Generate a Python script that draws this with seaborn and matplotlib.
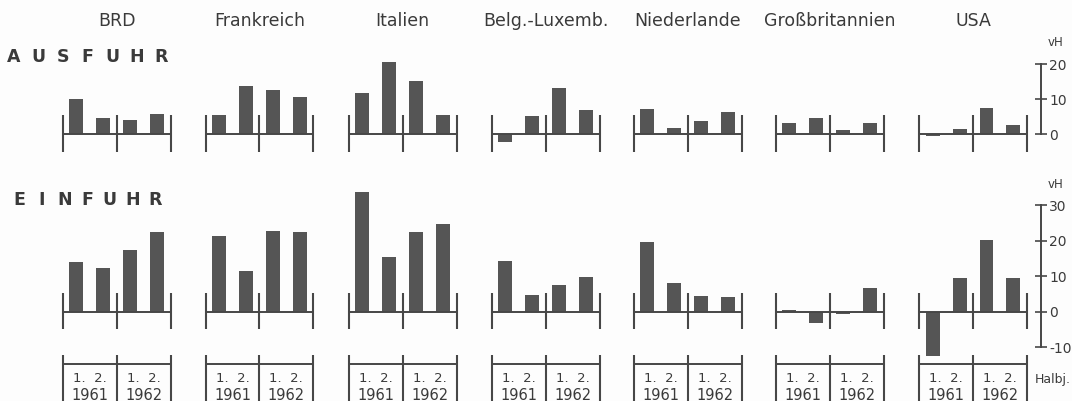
import matplotlib
matplotlib.use("Agg")
import matplotlib.pyplot as plt
import seaborn as sns
import pandas as pd

# ---------------- data ----------------
countries = ["BRD", "Frankreich", "Italien", "Belg.-Luxemb.",
             "Niederlande", "Großbritannien", "USA"]
halfyears = ["1/1961", "2/1961", "1/1962", "2/1962"]
half_label = "1.  2."
years = ["1961", "1962"]

ausfuhr_brd = [10.0, 4.7, 4.1, 5.9]
ausfuhr_fra = [5.5, 13.9, 12.8, 10.6]
ausfuhr_ita = [11.7, 20.7, 15.2, 5.5]
ausfuhr_bel = [-2.1, 5.3, 13.1, 6.9]
ausfuhr_ned = [7.1, 1.8, 3.8, 6.5]
ausfuhr_gbr = [3.1, 4.6, 1.2, 3.3]
ausfuhr_usa = [-0.4, 1.4, 7.4, 2.7]

einfuhr_brd = [14.1, 12.4, 17.5, 22.5]
einfuhr_fra = [21.4, 11.4, 22.8, 22.5]
einfuhr_ita = [33.7, 15.3, 22.5, 24.6]
einfuhr_bel = [14.4, 4.7, 7.4, 9.9]
einfuhr_ned = [19.5, 8.2, 4.5, 4.2]
einfuhr_gbr = [0.5, -3.1, -0.6, 6.6]
einfuhr_usa = [-12.6, 9.4, 20.2, 9.4]

ausfuhr = [ausfuhr_brd, ausfuhr_fra, ausfuhr_ita, ausfuhr_bel,
           ausfuhr_ned, ausfuhr_gbr, ausfuhr_usa]
einfuhr = [einfuhr_brd, einfuhr_fra, einfuhr_ita, einfuhr_bel,
           einfuhr_ned, einfuhr_gbr, einfuhr_usa]

aus_ticks = [0, 10, 20]
aus_ticklabels = ["0", "10", "20"]
ein_ticks = [-10, 0, 10, 20, 30]
ein_ticklabels = ["-10", "0", "10", "20", "30"]

# ---------------- style / layout ----------------
sns.set_theme(style="white")
plt.rcParams['font.family'] = ['DejaVu Sans']

BAR = "#555555"
LINE = "#474747"
TXT = "#3a3a3a"
BG = "#fdfdfd"

W, H = 1072, 401
fig = plt.figure(figsize=(W / 100, H / 100), dpi=100, facecolor=BG)


def add_ax(left, top, width, height):
    ax = fig.add_axes([left / W, 1 - (top + height) / H, width / W, height / H])
    ax.set_facecolor("none")
    return ax


panel_left = [63, 205.7, 349, 492, 634, 776, 919.3]
panel_w = 107.5

A_TOP, A_BOT, A_BASE, A_SC = 30, 165, 134.3, 3.5
E_TOP, E_BOT, E_BASE, E_SC = 180, 401, 311.7, 3.55


def lims(top, bot, base, sc):
    return ((base - bot) / sc, (base - top) / sc)


def e_px(y):
    return (E_BASE - y) / E_SC


def frame(ax, up, down):
    ax.plot([-0.5, 3.5], [0, 0], color=LINE, lw=1.4, clip_on=False,
            solid_capstyle="butt", zorder=3)
    ax.vlines([-0.5, 1.5, 3.5], down, up, color=LINE, lw=1.5,
              clip_on=False, zorder=3)


for i, name in enumerate(countries):
    left = panel_left[i]
    # Ausfuhr
    ax = add_ax(left, A_TOP, panel_w, A_BOT - A_TOP)
    df = pd.DataFrame({"h": halfyears, "v": ausfuhr[i]})
    sns.barplot(data=df, x="h", y="v", color=BAR, saturation=1, width=0.52,
                ax=ax, edgecolor="none")
    ax.set_xlim(-0.5, 3.5)
    ax.set_ylim(*lims(A_TOP, A_BOT, A_BASE, A_SC))
    frame(ax, 5.5, -5.0)
    ax.axis("off")

    # Einfuhr
    ax = add_ax(left, E_TOP, panel_w, E_BOT - E_TOP)
    df = pd.DataFrame({"h": halfyears, "v": einfuhr[i]})
    sns.barplot(data=df, x="h", y="v", color=BAR, saturation=1, width=0.52,
                ax=ax, edgecolor="none")
    ax.set_xlim(-0.5, 3.5)
    ax.set_ylim(*lims(E_TOP, E_BOT, E_BASE, E_SC))
    frame(ax, 5.2, -5.0)
    # label box below
    ax.vlines([-0.5, 1.5, 3.5], e_px(401), e_px(355), color=LINE, lw=1.5,
              clip_on=False)
    ax.plot([-0.5, 3.5], [e_px(364), e_px(364)], color=LINE, lw=1.4,
            clip_on=False, solid_capstyle="butt")
    for j, yr in enumerate(years):
        xc = 0.5 + 2 * j
        ax.text(xc, e_px(378), half_label, ha="center", va="center",
                fontsize=9.5, color=TXT)
        ax.text(xc, e_px(395.5), yr, ha="center", va="center",
                fontsize=10.5, color=TXT)
    ax.axis("off")

    # country header
    fig.text((left + panel_w / 2) / W, 1 - 21 / H, name, ha="center",
             va="center", fontsize=12.5, color=TXT)

# spaced section titles
for k, ch in enumerate("AUSFUHR"):
    fig.text((14 + k * 24.6) / W, 1 - 56.5 / H, ch, ha="center", va="center",
             fontsize=12.5, fontweight="bold", color=TXT)
for k, ch in enumerate("EINFUHR"):
    fig.text((19.5 + k * 22.6) / W, 1 - 199.5 / H, ch, ha="center",
             va="center", fontsize=12.5, fontweight="bold", color=TXT)


def scale_axis(top, bot, base, sc, ticks, labels):
    sax = add_ax(1000, top, 41, bot - top)
    sax.set_ylim(*lims(top, bot, base, sc))
    for s in ["left", "top", "bottom"]:
        sax.spines[s].set_visible(False)
    sax.spines["right"].set_visible(True)
    sax.spines["right"].set_color(LINE)
    sax.spines["right"].set_linewidth(1.4)
    sax.spines["right"].set_bounds(ticks[0], ticks[-1])
    sax.yaxis.tick_right()
    sax.set_yticks(ticks)
    sax.set_yticklabels(labels)
    sax.set_xticks([])
    sax.tick_params(axis="y", direction="inout", length=8, width=1.2,
                    colors=LINE, labelcolor=TXT, labelsize=10, pad=2)
    sax.grid(False)
    return sax


scale_axis(A_TOP, A_BOT, A_BASE, A_SC, aus_ticks, aus_ticklabels)
scale_axis(E_TOP, E_BOT, E_BASE, E_SC, ein_ticks, ein_ticklabels)

fig.text(1056 / W, 1 - 43 / H, "vH", ha="center", va="center",
         fontsize=8.5, color=TXT)
fig.text(1056 / W, 1 - 184 / H, "vH", ha="center", va="center",
         fontsize=8.5, color=TXT)
fig.text(1053 / W, 1 - 379 / H, "Halbj.", ha="center", va="center",
         fontsize=9, color=TXT)

fig.savefig("out.png", dpi=100, facecolor=BG)
